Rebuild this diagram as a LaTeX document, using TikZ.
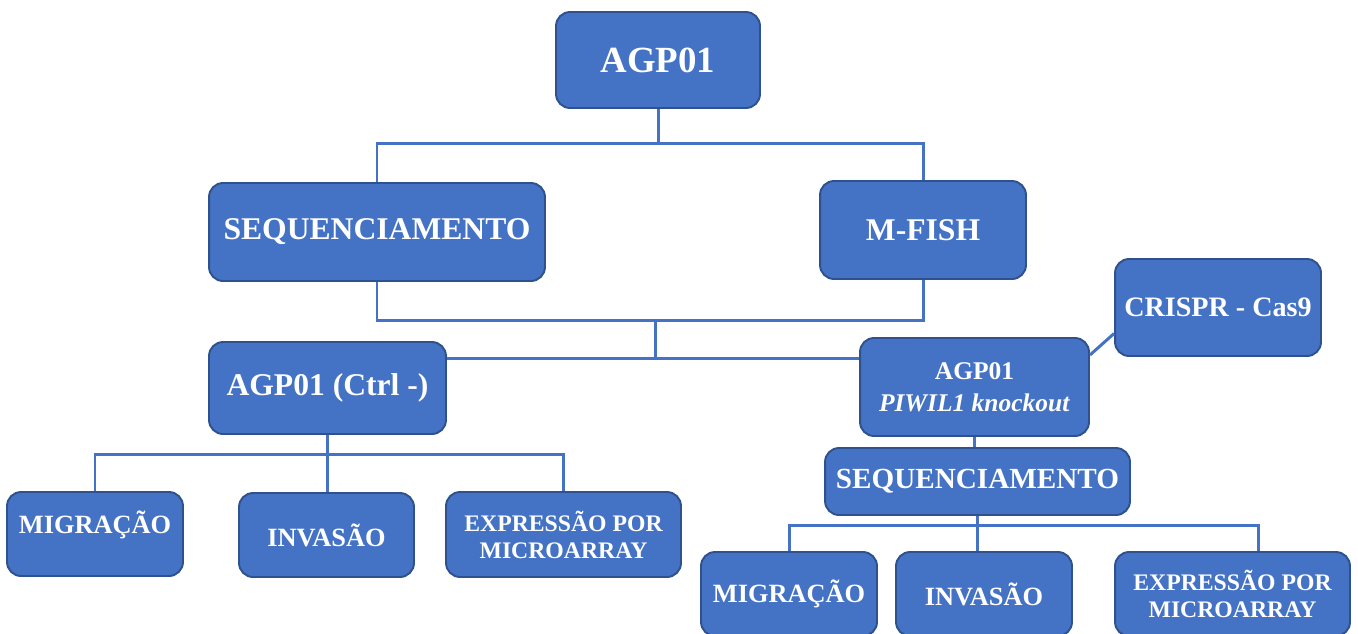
\documentclass[tikz,border=0pt]{standalone}
\usepackage{fontspec}
\setmainfont{Liberation Serif}
\usepackage{xcolor}
\usetikzlibrary{positioning}
\definecolor{boxfill}{HTML}{4472C4}
\definecolor{boxline}{HTML}{2F528F}
\definecolor{linkblue}{HTML}{4472C4}

\begin{document}
\begin{tikzpicture}[x=0.02cm, y=-0.02cm,
  box/.style={draw=boxline, fill=boxfill, line width=1.1pt,
    rounded corners=8pt, text=white, align=center, inner sep=0pt},
  link/.style={draw=linkblue, line width=1.7pt}]
\useasboundingbox (0,0) rectangle (1358,633);
\clip (0,0) rectangle (1358,633);

% --- Top: cell line ---
\node[box, font=\fontsize{21}{25}\selectfont\bfseries,
  minimum width=4.08cm, minimum height=1.92cm] (agp) at (658,60) {AGP01};

% --- Characterisation ---
\node[box, font=\fontsize{18}{21}\selectfont\bfseries,
  minimum width=6.72cm, minimum height=1.96cm] (seq) at (377,232)
  {SEQUENCIAMENTO};
\node[box, font=\fontsize{18}{21}\selectfont\bfseries,
  minimum width=4.12cm, minimum height=1.96cm] (mfish) at (923,230)
  {M-FISH};

% --- Control and knockout ---
\node[box, font=\fontsize{18}{21}\selectfont\bfseries,
  minimum width=4.74cm, minimum height=1.84cm] (ctrl) at (327.5,388)
  {AGP01 (Ctrl -)};
\node[box, font=\fontsize{14.5}{18}\selectfont\bfseries,
  minimum width=4.58cm, minimum height=1.96cm] (piwil) at (974.5,387)
  {AGP01\\\textit{PIWIL1 knockout}};
\node[box, font=\fontsize{16}{19}\selectfont\bfseries,
  minimum width=4.12cm, minimum height=1.94cm] (crispr) at (1218,307.5)
  {CRISPR - Cas9};
\node[box, font=\fontsize{16.6}{19}\selectfont\bfseries,
  minimum width=6.1cm, minimum height=1.34cm] (seqB) at (977.5,481.5)
  {SEQUENCIAMENTO};

% --- Assays (control) ---
\node[box, font=\fontsize{15}{18}\selectfont\bfseries, text depth=14pt,
  minimum width=3.52cm, minimum height=1.68cm] (migA) at (95,534)
  {MIGRAÇÃO};
\node[box, font=\fontsize{15}{18}\selectfont\bfseries,
  minimum width=3.5cm, minimum height=1.68cm] (invA) at (326.5,535)
  {INVASÃO};
\node[box, font=\fontsize{13.5}{15.3}\selectfont\bfseries,
  minimum width=4.7cm, minimum height=1.7cm] (exprA) at (563.5,534.5)
  {EXPRESSÃO POR\\MICROARRAY};

% --- Assays (knockout) ---
\node[box, font=\fontsize{15}{18}\selectfont\bfseries,
  minimum width=3.52cm, minimum height=1.68cm] (migB) at (789,594)
  {MIGRAÇÃO};
\node[box, font=\fontsize{15}{18}\selectfont\bfseries,
  minimum width=3.52cm, minimum height=1.68cm] (invB) at (984,594)
  {INVASÃO};
\node[box, font=\fontsize{13.5}{15.3}\selectfont\bfseries,
  minimum width=4.7cm, minimum height=1.68cm] (exprB) at (1232.5,594)
  {EXPRESSÃO POR\\MICROARRAY};

% --- Connectors ---
\coordinate (bar1) at (655,143);
\coordinate (bar2) at (655,320);
\coordinate (bar3) at (655,358);
\coordinate (bar4) at (329,454);
\coordinate (bar5) at (980,525);
\draw[link] (agp.south) -- (agp.south |- bar1);
\draw[link] (seq.north) |- (bar1) -| (mfish.north);
\draw[link] (seq.south) |- (bar2) -| (mfish.south);
\draw[link] (bar2) -- (bar3);
\draw[link] (ctrl.east |- bar3) -- (piwil.west |- bar3);
\draw[link] ([yshift=-0.52cm]crispr.west) -- ([yshift=0.64cm]piwil.east);
\draw[link] (piwil.south) -- (piwil.south |- seqB.north);
% control branch
\draw[link] (ctrl.south) -- (ctrl.south |- invA.north);
\draw[link] (migA.north) |- (bar4) -| (exprA.north);
% knockout branch
\draw[link] (seqB.south) -- (seqB.south |- invB.north);
\draw[link] (migB.north) |- (bar5) -| ([xshift=0.52cm]exprB.north);
\end{tikzpicture}
\end{document}
